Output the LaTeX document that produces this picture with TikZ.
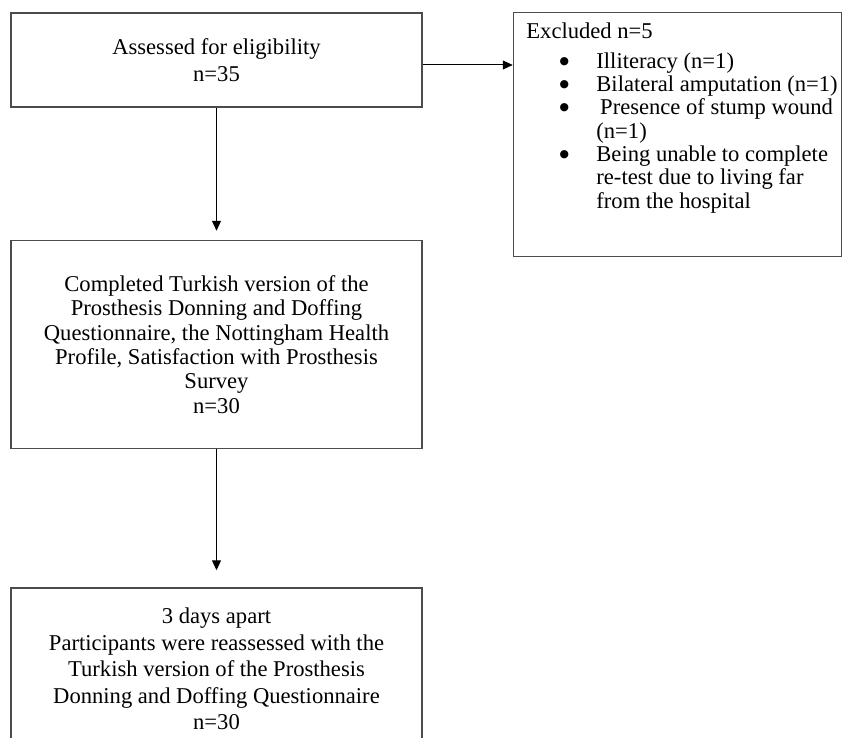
\documentclass[tikz,border=0pt]{standalone}
\usepackage{fontspec}
\setmainfont{Liberation Serif}
\newfontfamily\symfont{DejaVu Sans}
\usetikzlibrary{positioning,arrows.meta}

\newcommand{\bul}{\hspace*{17.5pt}\makebox[12pt][c]{\raisebox{2pt}{\symfont\fontsize{5.4pt}{5.4pt}\selectfont ●}}\hspace*{10pt}}
\newcommand{\hang}{\hspace*{39.5pt}}

\begin{document}
\begin{tikzpicture}[
  box/.style={rectangle, draw=black!70, line width=0.75pt, minimum width=205.5pt, align=center, inner sep=0pt},
  side/.style={rectangle, draw=black!70, line width=0.75pt, minimum width=164pt, minimum height=122.2pt, inner sep=0pt, align=left, font=\fontsize{11.3pt}{11.65pt}\selectfont},
  flow/.style={-{Triangle[length=5pt,width=4.5pt]}, line width=0.5pt, black}
]
  \useasboundingbox (0,0) rectangle (422.5pt,-369pt);

  \node[box, minimum height=47pt, font=\fontsize{11.3pt}{13.5pt}\selectfont] (assess) at (108.25pt,-30pt) {Assessed for eligibility\\n=35};

  \node[box, minimum height=104pt, below=66pt of assess, font=\fontsize{11.3pt}{12.2pt}\selectfont] (completed) {Completed Turkish version of the\\Prosthesis Donning and Doffing\\Questionnaire, the Nottingham Health\\Profile, Satisfaction with Prosthesis\\Survey\\n=30};

  \node[box, minimum height=81pt, below=69pt of completed, font=\fontsize{11.3pt}{13.25pt}\selectfont] (retest) {3 days apart\\Participants were reassessed with the\\Turkish version of the Prosthesis\\Donning and Doffing Questionnaire\\n=30};

  \node[side, right=45pt of assess.north east, anchor=north west, yshift=0.35pt] (excluded) {\hspace*{4.5pt}Excluded n=5\\[3.35pt]
    \bul Illiteracy (n=1)\\
    \bul Bilateral amputation (n=1)\\
    \bul \,Presence of stump wound\\
    \hang (n=1)\\
    \bul Being unable to complete\\
    \hang re-test due to living far\\
    \hang from the hospital\rule[-19.2pt]{0pt}{1pt}};

  \draw[flow, shorten >=4.5pt] (assess.south) -- (completed.north);
  \draw[flow, shorten >=8.5pt] (completed.south) -- (retest.north);
  \draw[flow] ([yshift=-2.5pt]assess.east) -- ([yshift=-2.5pt]assess.east -| excluded.west);
\end{tikzpicture}
\end{document}
